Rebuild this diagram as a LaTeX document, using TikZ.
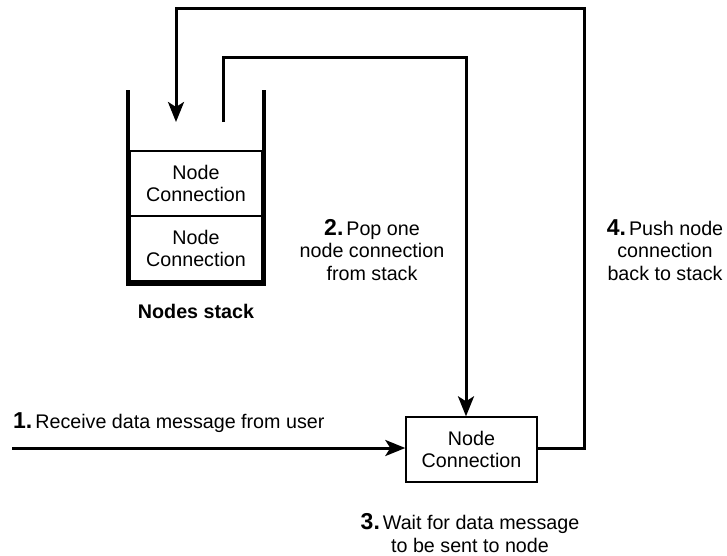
\documentclass[tikz,border=0pt]{standalone}
\usepackage{fontspec}
\setmainfont{Liberation Sans}
\usetikzlibrary{arrows.meta}
% bold, slightly larger step number
\newcommand{\stepno}[1]{{\fontsize{23}{23}\selectfont\bfseries #1}\kern3pt}
\begin{document}
\begin{tikzpicture}[x=1pt,y=-1pt,
  every node/.style={font=\fontsize{19.7}{22.5}\selectfont, inner sep=0pt},
  flow/.style={line width=3pt, -{Stealth[length=20pt,width=16pt,inset=5pt]}},
  wall/.style={line width=3.2pt},
  stackbox/.style={draw, line width=1.8pt, minimum width=131pt, minimum height=65pt, align=center},
  procbox/.style={draw, line width=1.4pt, minimum width=131pt, minimum height=65pt, align=center},
  note/.style={align=center}]
\useasboundingbox (0,0) rectangle (727,555);

% the stack container
\draw[wall] (128,90) -- (128,284) -- (264,284) -- (264,90);
\node[stackbox] (s1) at (196,183.5) {Node\\Connection};
\node[stackbox] (s2) at (196,248.5) {Node\\Connection};
\node[font=\fontsize{19.7}{22.5}\selectfont\bfseries] (lbl) at (196,311) {Nodes stack};

% the worker box
\node[procbox] (nc) at (471.5,449.5) {Node\\Connection};

% corner points of the routed connectors
\coordinate (popS) at (223,122);
\coordinate (popA) at (223,57);
\coordinate (popB) at (466,57);
\coordinate (pushA) at (584,448);
\coordinate (pushB) at (584,8);
\coordinate (pushC) at (176,8);
\coordinate (pushT) at (176,122);
\coordinate (src) at (12,448);

% 1. incoming message
\draw[flow] (src) -- (src -| nc.west);
% 2. pop from stack
\draw[flow] (popS) -- (popA) -- (popB) -- (popB |- nc.north);
% 4. push back to stack
\draw[flow] (nc.east |- pushA) -- (pushA) -- (pushB) -- (pushC) -- (pushT);

% step labels
\node[anchor=west] (t1) at (13,423) {\stepno{1.}Receive data message from user};
\node[note] (t2) at (372,250) {\stepno{2.}Pop one\\node connection\\from stack};
\node[note] (t3) at (470,533) {\stepno{3.}Wait for data message\\to be sent to node};
\node[note] (t4) at (665,250) {\stepno{4.}Push node\\connection\\back to stack};
\end{tikzpicture}
\end{document}
